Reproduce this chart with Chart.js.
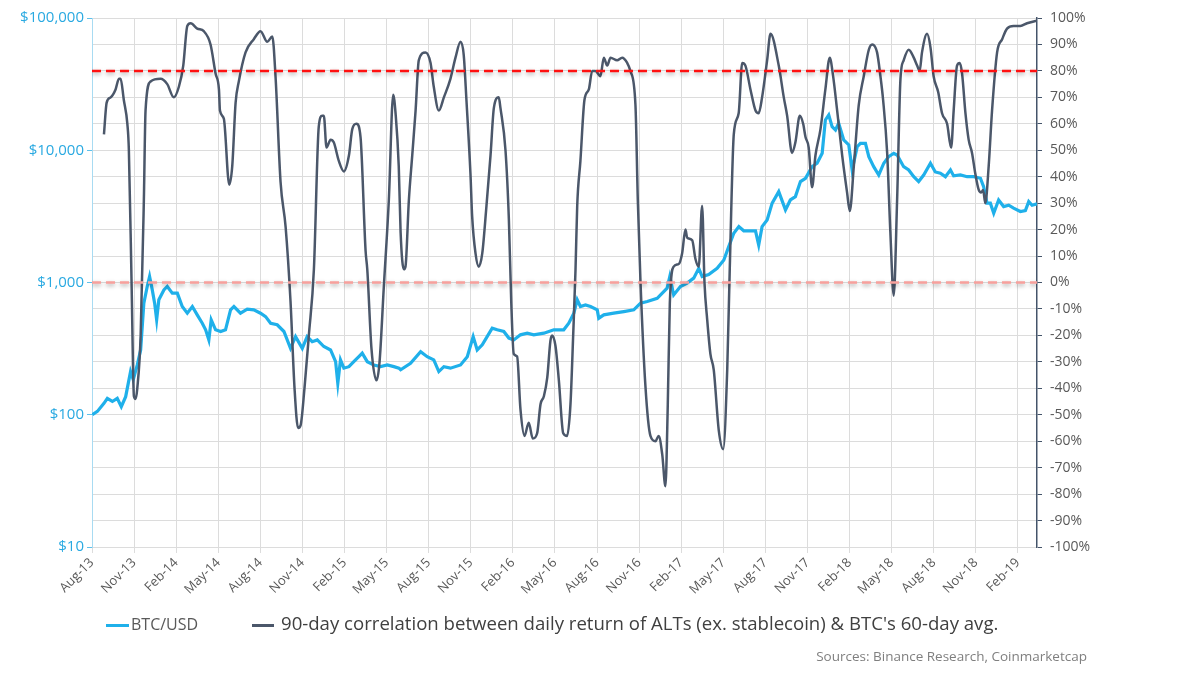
<!DOCTYPE html>
<html>
<head>
<meta charset="utf-8">
<script src="https://cdn.jsdelivr.net/npm/chart.js@4.4.1/dist/chart.umd.min.js"></script>
<style>
  body { margin: 0; background: #fff; font-family: 'Open Sans', sans-serif; }
  #wrap { position: relative; width: 1200px; height: 683px; }
  .legend-line { position: absolute; height: 3px; }
  .legend-text { position: absolute; color: #404040; white-space: nowrap; }
</style>
</head>
<body>
<div id="wrap">
  <canvas id="corrChart" width="1200" height="683"></canvas>
  <div class="legend-line" style="left:106px; top:624px; width:23px; background:#1fb0ea;"></div>
  <div class="legend-text" style="left:131px; top:613px; font-size:16px; color:#595959;">BTC/USD</div>
  <div class="legend-line" style="left:252px; top:624px; width:22px; height:2.5px; background:#4b576a;"></div>
  <div class="legend-text" style="left:281px; top:610px; font-size:18.6px;">90-day correlation between daily return of ALTs (ex. stablecoin) &amp; BTC's 60-day avg.</div>
  <div class="legend-text" style="right:113px; top:647px; font-size:13.5px; color:#7f7f7f;">Sources: Binance Research, Coinmarketcap</div>
</div>
<script>
// x axis: decimal years, one tick per quarter
const tickLabels = ['Aug-13', 'Nov-13', 'Feb-14', 'May-14', 'Aug-14', 'Nov-14', 'Feb-15', 'May-15',
    'Aug-15', 'Nov-15', 'Feb-16', 'May-16', 'Aug-16', 'Nov-16', 'Feb-17', 'May-17', 'Aug-17',
    'Nov-17', 'Feb-18', 'May-18', 'Aug-18', 'Nov-18', 'Feb-19'];
const firstTick = 2013.583;
const tickStep = 0.25;
const xEnd = 2019.196;

const priceTicks = [10, 100, 1000, 10000, 100000];
const thresholds = [80, 0];

// BTC/USD (left, log)
const btcYears = [2013.585, 2013.615, 2013.654, 2013.674, 2013.704, 2013.733, 2013.757, 2013.783, 2013.812, 2013.828,
    2013.852, 2013.872, 2013.891, 2013.911, 2013.925, 2013.941, 2013.955, 2013.967, 2013.980, 2014.010,
    2014.030, 2014.060, 2014.090, 2014.119, 2014.149, 2014.179, 2014.208, 2014.238, 2014.258, 2014.277,
    2014.291, 2014.317, 2014.347, 2014.376, 2014.406, 2014.426, 2014.465, 2014.505, 2014.544, 2014.584,
    2014.614, 2014.644, 2014.683, 2014.723, 2014.762, 2014.792, 2014.832, 2014.861, 2014.891, 2014.921,
    2014.960, 2015.000, 2015.030, 2015.043, 2015.059, 2015.079, 2015.109, 2015.138, 2015.168, 2015.188,
    2015.218, 2015.257, 2015.297, 2015.337, 2015.376, 2015.406, 2015.416, 2015.475, 2015.535, 2015.574,
    2015.613, 2015.643, 2015.673, 2015.712, 2015.772, 2015.812, 2015.847, 2015.871, 2015.901, 2015.930,
    2015.960, 2015.990, 2016.029, 2016.059, 2016.088, 2016.128, 2016.168, 2016.207, 2016.267, 2016.326,
    2016.385, 2016.415, 2016.445, 2016.465, 2016.484, 2016.514, 2016.544, 2016.584, 2016.593, 2016.623,
    2016.682, 2016.742, 2016.801, 2016.841, 2016.881, 2016.940, 2016.999, 2017.015, 2017.038, 2017.078,
    2017.118, 2017.157, 2017.187, 2017.207, 2017.246, 2017.296, 2017.336, 2017.365, 2017.395, 2017.425,
    2017.454, 2017.494, 2017.524, 2017.543, 2017.563, 2017.593, 2017.623, 2017.662, 2017.702, 2017.731,
    2017.761, 2017.791, 2017.821, 2017.860, 2017.890, 2017.920, 2017.939, 2017.959, 2017.979, 2017.999,
    2018.018, 2018.048, 2018.078, 2018.098, 2018.128, 2018.147, 2018.177, 2018.197, 2018.226, 2018.256,
    2018.286, 2018.315, 2018.345, 2018.365, 2018.404, 2018.434, 2018.464, 2018.493, 2018.523, 2018.563,
    2018.592, 2018.622, 2018.652, 2018.682, 2018.701, 2018.741, 2018.781, 2018.820, 2018.860, 2018.879,
    2018.899, 2018.919, 2018.939, 2018.968, 2018.998, 2019.028, 2019.057, 2019.097, 2019.127, 2019.147,
    2019.167, 2019.196];
const btcPrice = [100, 106, 122, 133, 126, 133, 115, 137, 212, 184,
    238, 309, 698, 933, 1110, 879, 698, 522, 740, 879,
    933, 830, 830, 658, 586, 658, 569, 492, 439, 368,
    522, 439, 426, 439, 621, 658, 586, 628, 621, 586,
    552, 492, 479, 426, 318, 390, 318, 390, 357, 368,
    328, 309, 252, 173, 260, 225, 231, 252, 275, 292,
    252, 238, 231, 238, 231, 225, 219, 245, 300, 275,
    260, 212, 231, 225, 238, 275, 390, 309, 338, 390,
    452, 439, 426, 380, 368, 402, 414, 402, 414, 439,
    439, 492, 586, 740, 658, 676, 658, 621, 537, 569,
    586, 603, 621, 698, 718, 760, 906, 1110, 805, 933,
    989, 1079, 1280, 1110, 1150, 1282, 1479, 1866, 2359, 2645,
    2460, 2460, 2460, 1923, 2645, 2969, 3981, 4864, 3540, 4208,
    4460, 5800, 6140, 7510, 7980, 9490, 16950, 18500, 15070, 14220,
    15990, 11970, 10970, 7100, 10640, 11290, 11290, 8950, 7510, 6500,
    7980, 8950, 9490, 9200, 7510, 7100, 6310, 5800, 6500, 7980,
    6850, 6700, 6310, 7100, 6400, 6500, 6310, 6310, 6140, 5310,
    3981, 3981, 3340, 4208, 3750, 3840, 3650, 3440, 3500, 4090,
    3840, 3930];

// 90-day correlation (right, %)
const corrYears = [2013.654, 2013.670, 2013.694, 2013.723, 2013.743, 2013.753, 2013.772, 2013.793, 2013.802, 2013.818,
    2013.832, 2013.842, 2013.852, 2013.872, 2013.891, 2013.901, 2013.931, 2013.990, 2014.030, 2014.069,
    2014.099, 2014.125, 2014.149, 2014.169, 2014.208, 2014.247, 2014.287, 2014.317, 2014.337, 2014.343,
    2014.366, 2014.398, 2014.416, 2014.436, 2014.455, 2014.495, 2014.544, 2014.584, 2014.624, 2014.654,
    2014.673, 2014.703, 2014.733, 2014.762, 2014.786, 2014.807, 2014.822, 2014.845, 2014.871, 2014.901,
    2014.930, 2014.950, 2014.960, 2014.976, 2015.000, 2015.019, 2015.049, 2015.079, 2015.109, 2015.129,
    2015.154, 2015.178, 2015.208, 2015.218, 2015.243, 2015.273, 2015.291, 2015.316, 2015.346, 2015.372,
    2015.386, 2015.405, 2015.416, 2015.435, 2015.445, 2015.465, 2015.485, 2015.505, 2015.524, 2015.564,
    2015.594, 2015.613, 2015.643, 2015.673, 2015.712, 2015.742, 2015.772, 2015.791, 2015.807, 2015.831,
    2015.841, 2015.861, 2015.880, 2015.901, 2015.926, 2015.950, 2015.970, 2015.999, 2016.009, 2016.039,
    2016.059, 2016.073, 2016.088, 2016.108, 2016.128, 2016.152, 2016.177, 2016.201, 2016.227, 2016.247,
    2016.267, 2016.287, 2016.306, 2016.316, 2016.336, 2016.356, 2016.382, 2016.405, 2016.425, 2016.441,
    2016.455, 2016.465, 2016.484, 2016.508, 2016.534, 2016.554, 2016.573, 2016.603, 2016.623, 2016.643,
    2016.663, 2016.702, 2016.732, 2016.762, 2016.781, 2016.811, 2016.825, 2016.841, 2016.870, 2016.900,
    2016.930, 2016.949, 2016.970, 2016.989, 2017.003, 2017.015, 2017.038, 2017.068, 2017.088, 2017.108,
    2017.118, 2017.148, 2017.167, 2017.187, 2017.207, 2017.221, 2017.237, 2017.256, 2017.276, 2017.306,
    2017.332, 2017.356, 2017.371, 2017.395, 2017.424, 2017.445, 2017.464, 2017.494, 2017.524, 2017.543,
    2017.563, 2017.593, 2017.613, 2017.662, 2017.692, 2017.712, 2017.741, 2017.761, 2017.787, 2017.807,
    2017.821, 2017.840, 2017.860, 2017.880, 2017.910, 2017.939, 2017.965, 2017.985, 2018.009, 2018.039,
    2018.068, 2018.084, 2018.108, 2018.137, 2018.167, 2018.197, 2018.217, 2018.246, 2018.266, 2018.282,
    2018.306, 2018.325, 2018.345, 2018.365, 2018.385, 2018.404, 2018.434, 2018.464, 2018.484, 2018.499,
    2018.513, 2018.543, 2018.563, 2018.582, 2018.609, 2018.632, 2018.662, 2018.686, 2018.701, 2018.721,
    2018.737, 2018.751, 2018.771, 2018.790, 2018.810, 2018.830, 2018.850, 2018.864, 2018.876, 2018.889,
    2018.909, 2018.929, 2018.959, 2018.989, 2019.018, 2019.057, 2019.097, 2019.137, 2019.196];
const corrPct = [56, 68, 70, 73, 77, 77, 69, 60, 50, 0,
    -43, -44, -40, -20, 31, 65, 76, 77, 75, 70,
    74, 82, 97, 98, 96, 95, 90, 79, 73, 65,
    62, 37, 44, 68, 76, 87, 92, 95, 91, 93,
    78, 38, 21, -7, -40, -55, -54, -40, -20, 5,
    59, 63, 63, 51, 54, 53, 46, 42, 48, 58,
    60, 55, 12, 5, -25, -37, -30, -2, 31, 71,
    64, 44, 19, 5, 6, 31, 48, 65, 84, 87,
    83, 74, 65, 70, 77, 85, 91, 86, 69, 41,
    25, 11, 6, 11, 29, 48, 66, 70, 66, 50,
    24, -7, -27, -28, -48, -58, -53, -59, -57, -46,
    -43, -36, -22, -20, -24, -37, -57, -58, -46, -20,
    5, 29, 46, 69, 73, 80, 80, 78, 85, 82,
    85, 84, 85, 83, 80, 67, 31, 0, -39, -58,
    -60, -58, -65, -77, -46, -8, 6, 7, 11, 20,
    17, 16, 9, 6, 29, 0, -14, -27, -33, -56,
    -63, -33, 5, 56, 64, 83, 82, 73, 65, 64,
    70, 84, 94, 82, 70, 63, 49, 53, 63, 60,
    55, 51, 36, 48, 58, 73, 85, 78, 65, 48,
    34, 27, 44, 67, 78, 88, 90, 87, 78, 69,
    49, 19, -5, 31, 77, 84, 88, 85, 82, 80,
    87, 94, 89, 78, 72, 64, 60, 51, 65, 82,
    83, 79, 64, 54, 49, 41, 35, 34, 35, 30,
    44, 65, 87, 92, 96, 97, 97, 98, 99];

const toPoints = (xs, ys) => xs.map((x, i) => ({ x: x, y: ys[i] }));

const shadowPlugin = {
    id: 'lineShadow',
    beforeDatasetDraw(chart, args) {
        if (chart.data.datasets[args.index].shadow) {
            const ctx = chart.ctx;
            ctx.save();
            ctx.shadowColor = 'rgba(0, 0, 0, 0.35)';
            ctx.shadowBlur = 4;
            ctx.shadowOffsetY = 2;
        }
    },
    afterDatasetDraw(chart, args) {
        if (chart.data.datasets[args.index].shadow) {
            chart.ctx.restore();
        }
    }
};

const thresholdColors = ['#ff1010', '#f7a09c'];
const thresholdSets = thresholds.map((t, i) => ({
    label: 'threshold ' + t,
    data: [{ x: firstTick, y: t }, { x: xEnd, y: t }],
    yAxisID: 'yPct',
    borderColor: thresholdColors[i],
    borderWidth: 2.5,
    borderDash: [9, 5],
    pointRadius: 0,
    shadow: true,
    order: 0
}));

new Chart(document.getElementById('corrChart'), {
    type: 'line',
    data: {
        datasets: [
            ...thresholdSets,
            {
                label: '90-day correlation',
                data: toPoints(corrYears, corrPct),
                yAxisID: 'yPct',
                borderColor: '#4b576a',
                borderWidth: 2.5,
                pointRadius: 0,
                cubicInterpolationMode: 'monotone',
                order: 1
            },
            {
                label: 'BTC/USD',
                data: toPoints(btcYears, btcPrice),
                yAxisID: 'yPrice',
                borderColor: '#1fb0ea',
                borderWidth: 3.2,
                pointRadius: 0,
                tension: 0,
                order: 2
            }
        ]
    },
    plugins: [shadowPlugin],
    options: {
        responsive: false,
        animation: false,
        devicePixelRatio: 1,
        layout: { padding: { top: 18, left: 0, right: 0, bottom: 0 } },
        plugins: {
            legend: { display: false },
            tooltip: { enabled: false }
        },
        scales: {
            x: {
                type: 'linear',
                min: firstTick,
                max: xEnd,
                afterBuildTicks: scale => {
                    scale.ticks = tickLabels.map((l, i) => ({ value: firstTick + i * tickStep }));
                },
                afterFit: scale => { scale.height = 136; },
                ticks: {
                    minRotation: 45,
                    maxRotation: 45,
                    autoSkip: false,
                    padding: 2,
                    color: '#595959',
                    font: { family: 'Open Sans', size: 13 },
                    callback: (v, i) => tickLabels[i]
                },
                grid: { color: '#dcdcdc', tickColor: '#dcdcdc', tickLength: 6 },
                border: { color: '#dcdcdc' }
            },
            yPrice: {
                type: 'logarithmic',
                position: 'left',
                min: 10,
                max: 100000,
                afterBuildTicks: scale => {
                    scale.ticks = priceTicks.map(v => ({ value: v }));
                },
                afterFit: scale => { scale.width = 92; },
                ticks: {
                    padding: 3,
                    color: '#29a9e1',
                    font: { family: 'Open Sans', size: 15 },
                    callback: v => '$' + Number(v).toLocaleString('en-US')
                },
                grid: { drawOnChartArea: false, tickColor: '#5fc0ea', tickLength: 5 },
                border: { color: '#a8dbf2', width: 1 }
            },
            yPct: {
                type: 'linear',
                position: 'right',
                min: -100,
                max: 100,
                afterFit: scale => { scale.width = 163; },
                ticks: {
                    stepSize: 10,
                    padding: 8,
                    color: '#595959',
                    font: { family: 'Open Sans', size: 14 },
                    callback: v => v + '%'
                },
                grid: { color: '#dcdcdc', tickColor: '#44546a', tickLength: 5 },
                border: { color: '#44546a', width: 1.5 }
            }
        }
    }
});
</script>
</body>
</html>
